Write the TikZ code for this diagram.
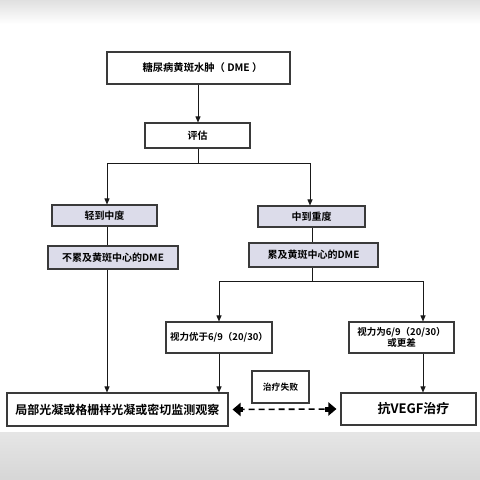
\documentclass[tikz,border=0pt]{standalone}
\usepackage{fontspec}
\setmainfont{Noto Sans CJK SC}[BoldFont={Noto Sans CJK SC Bold}]
\usetikzlibrary{arrows.meta,calc}
\definecolor{lav}{HTML}{DCDCEA}
\definecolor{edge}{HTML}{3A3A3A}
\tikzset{
  box/.style={draw=edge, line width=1.1pt, fill=white, inner sep=0pt, align=center, font=\bfseries},
  lbox/.style={box, fill=lav},
  ln/.style={draw=black!90, line width=0.9pt},
  arr/.style={ln, -{Triangle[width=5pt,length=6pt]}},
}
\begin{document}
\begin{tikzpicture}[x=1pt,y=-1pt]
\useasboundingbox (0,0) rectangle (480,480);
\fill[white] (0,0) rectangle (480,480);
\shade[top color=black!12, bottom color=white] (0,0) rectangle (480,24);
\shade[top color=black!10, bottom color=black!16] (0,432) rectangle (480,480);

\node[box, minimum width=183pt, minimum height=32pt, font=\bfseries\fontsize{10.3}{12}\selectfont] (dme) at (198.5,68) {\hspace*{8pt}糖尿病黄斑水肿（ DME ）};
\node[box, minimum width=105pt, minimum height=25pt, font=\bfseries\fontsize{10}{12}\selectfont] (eval) at (197.5,135.5) {评估};
\node[lbox, minimum width=105pt, minimum height=21pt, font=\bfseries\fontsize{10}{12}\selectfont] (mild) at (104.5,215.5) {轻到中度};
\node[lbox, minimum width=130pt, minimum height=23pt, font=\bfseries\fontsize{10}{12}\selectfont] (notc) at (113,257.5) {不累及黄斑中心的DME};
\node[lbox, minimum width=107pt, minimum height=21pt, font=\bfseries\fontsize{10}{12}\selectfont] (sev) at (311.5,216.5) {中到重度};
\node[lbox, minimum width=129pt, minimum height=24pt, font=\bfseries\fontsize{10}{12}\selectfont] (cent) at (313.5,255) {累及黄斑中心的DME};
\node[box, minimum width=106pt, minimum height=31pt, font=\bfseries\fontsize{9.5}{12}\selectfont] (va1) at (219,337.5) {视力优于6/9（20/30）};
\node[box, minimum width=105pt, minimum height=31pt, font=\bfseries\fontsize{9.5}{11.5}\selectfont] (va2) at (401.5,337.5) {视力为6/9（20/30）\\或更差};
\node[box, minimum width=57pt, minimum height=32pt, font=\bfseries\fontsize{8.8}{10}\selectfont] (fail) at (280.5,387) {治疗失败};
\node[box, minimum width=221pt, minimum height=33pt, font=\bfseries\fontsize{12}{14}\selectfont] (bl) at (117.5,409.5) {局部光凝或格栅样光凝或密切监测观察};
\node[box, minimum width=135pt, minimum height=32pt, font=\bfseries\fontsize{13}{15}\selectfont] (br) at (408.5,409) {\hspace*{10pt}抗VEGF治疗};

\coordinate (j1) at (198,163);
\coordinate (jl) at (107,163);
\coordinate (jr) at (310,163);
\coordinate (j2) at (312,281);
\coordinate (kl) at (219,281);
\coordinate (kr) at (423,281);

\draw[arr] (dme.south -| j1) -- (eval.north -| j1);
\draw[ln] (eval.south -| j1) -- (j1);
\draw[ln] (jl) -- (jr);
\draw[arr] (jl) -- (mild.north -| jl);
\draw[arr] (jr) -- (sev.north -| jr);
\draw[ln] (mild.south -| jl) -- (notc.north -| jl);
\draw[arr] (notc.south -| jl) -- (bl.north -| jl);
\draw[ln] (sev.south -| j2) -- (cent.north -| j2);
\draw[ln] (cent.south -| j2) -- (j2);
\draw[ln] (kl) -- (kr);
\draw[arr] (kl) -- (va1.north -| kl);
\draw[arr] (kr) -- (va2.north -| kr);
\draw[arr] (va1.south -| kl) -- (bl.north -| kl);
\draw[arr] (va2.south -| kr) -- (br.north -| kr);

\draw[line width=1.6pt, dash pattern=on 6pt off 4pt, shorten <=10pt, shorten >=12pt] (bl.east) -- (br.west);
\draw[line width=5pt, -{Triangle[width=13pt,length=8pt]}, shorten >=4pt] ($(bl.east)+(14,0)$) -- (bl.east);
\draw[line width=5pt, -{Triangle[width=13pt,length=8pt]}, shorten >=4pt] ($(br.west)+(-15,0)$) -- (br.west);
\end{tikzpicture}
\end{document}
